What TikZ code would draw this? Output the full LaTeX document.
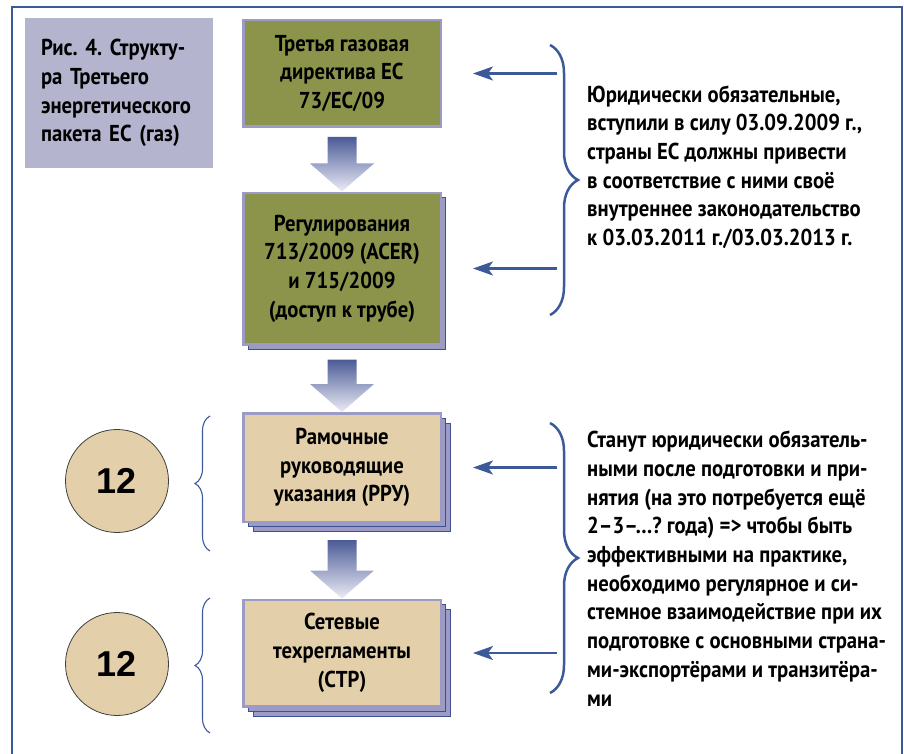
\documentclass[tikz,border=0pt]{standalone}
\usepackage{fontspec}
\setmainfont{PT Sans}[FakeStretch=0.9]
\newfontfamily\numfont{Liberation Sans}
\usetikzlibrary{positioning,shadows,decorations.pathreplacing,arrows.meta,calc}

\definecolor{boxolive}{HTML}{8B944A}
\definecolor{boxtan}{HTML}{E3CFA9}
\definecolor{boxedge}{HTML}{9B9BC6}
\definecolor{capfill}{HTML}{B4B4CF}
\definecolor{shadowblue}{HTML}{3D5190}
\definecolor{linkblue}{HTML}{3C5A99}
\definecolor{arrowtop}{HTML}{4B5B96}
\definecolor{arrowbot}{HTML}{ECECF6}

\newcommand\flowarrow[3]{%
  \path[flow arrow] let \p1=(#1.south), \p2=(#2.north) in
    (\x1-14.5pt,\y1-#3) -- (\x1+14.5pt,\y1-#3) -- (\x1+14.5pt,\y2+28pt)
    -- (\x1+32pt,\y2+28pt) -- (\x1,\y2) -- (\x1-32pt,\y2+28pt)
    -- (\x1-14.5pt,\y2+28pt) -- cycle;}

\frenchspacing
\begin{document}
\begin{tikzpicture}[x=1pt,y=-1pt,>={Stealth[length=20pt,width=14pt,inset=5pt]},
    every node/.style={font=\fontsize{23}{28.7}\selectfont\bfseries},
    main box/.style={draw=boxedge,line width=2.5pt,minimum width=197.5pt,align=center,inner sep=0pt},
    one stack/.style={copy shadow={shadow xshift=5pt,shadow yshift=-5pt,fill=boxedge,draw=shadowblue,line width=1.4pt}},
    two stack/.style={double copy shadow={shadow xshift=5pt,shadow yshift=-5pt,fill=boxedge,draw=shadowblue,line width=1.4pt}},
    count node/.style={circle,draw=black!75,line width=0.8pt,fill=boxtan,minimum size=103pt,font=\numfont\fontsize{36}{40}\selectfont\bfseries},
    note/.style={align=left,anchor=west,inner sep=0pt},
    link/.style={->,draw=linkblue,line width=2.2pt},
    flow arrow/.style={top color=arrowtop,bottom color=arrowbot},
    big brace/.style={draw=linkblue,line width=2.5pt,decorate,decoration={brace,amplitude=28pt}},
    small brace/.style={draw=linkblue,line width=1.1pt,decorate,decoration={brace,amplitude=15pt}}]
  \useasboundingbox (0,0) rectangle (904,754);
  \draw[linkblue,line width=1.4pt] (12,754) -- (12,7) -- (902,7) -- (902,754);

  \node[fill=capfill,minimum width=188pt,minimum height=150pt,text width=156pt,inner xsep=16pt,align=left] (cap) at (119,93)
    {Рис. 4. Структу-\\ра Третьего\\энергетического\\пакета ЕС (газ)};

  \node[main box,fill=boxolive,minimum height=106.5pt] (dir) at (342,73.5) {Третья газовая\\директива ЕС\\73/ЕС/09};
  \node[main box,fill=boxolive,minimum height=151.5pt,one stack] (reg) [below=63.5pt of dir] {Регулирования\\713/2009 (ACER)\\и 715/2009\\(доступ к трубе)};
  \node[main box,fill=boxtan,minimum height=108.5pt,two stack] (rru) [below=66.5pt of reg] {Рамочные\\руководящие\\указания (РРУ)};
  \node[main box,fill=boxtan,minimum height=106.5pt,two stack] (str) [below=75.5pt of rru] {Сетевые\\техрегламенты\\(СТР)};

  \flowarrow{dir}{reg}{9pt}
  \flowarrow{reg}{rru}{14pt}
  \flowarrow{rru}{str}{17pt}

  \node[count node] (n1) at (117,481) {12};
  \node[count node] (n2) at (117,664) {12};
  \draw[small brace] (210,551) -- (210,416);
  \draw[small brace] (210,733) -- (210,598);

  \draw[big brace] (550,45) -- (550,315);
  \draw[big brace] (550,423) -- (550,693);

  \node[note] (legal) at (587,167) {Юридически обязательные,\\вступили в силу 03.09.2009 г.,\\страны ЕС должны привести\\в соответствие с ними своё\\внутреннее законодательство\\к 03.03.2011 г./03.03.2013 г.};
  \node[note] (future) at (587,568.5) {Станут юридически обязатель-\\ными после подготовки и при-\\нятия (на это потребуется ещё\\2–3–…? года) => чтобы быть\\эффективными на практике,\\необходимо регулярное и си-\\стемное взаимодействие при их\\подготовке с основными страна-\\ми-экспортёрами и транзитёра-\\ми};

  \path
    ([xshift=115pt]dir.east) edge[link] ([xshift=31pt]dir.east)
    ([xshift=115pt]reg.east) edge[link] ([xshift=31pt]reg.east)
    ([xshift=115pt]rru.east) edge[link] ([xshift=31pt]rru.east)
    ([xshift=115pt]str.east) edge[link] ([xshift=31pt]str.east)
    ;
\end{tikzpicture}
\end{document}
